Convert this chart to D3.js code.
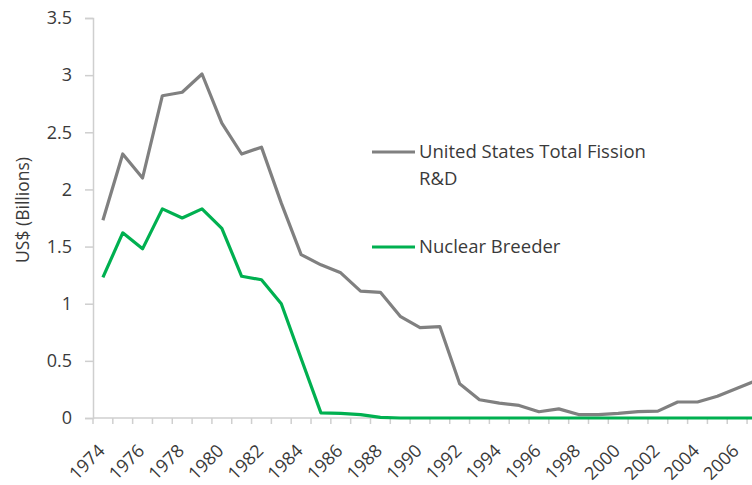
<!DOCTYPE html>
<html>
<head>
<meta charset="utf-8">
<script src="https://cdn.jsdelivr.net/npm/d3@7"></script>
<style>
  body { margin: 0; background: #fff; }
  svg { display: block; font-family: "Open Sans", Lato, sans-serif; }
</style>
</head>
<body>
<div id="chart"></div>
<script>
// years on the category axis (the chart runs past the right edge)
const years = [1974, 1975, 1976, 1977, 1978, 1979, 1980, 1981, 1982, 1983,
  1984, 1985, 1986, 1987, 1988, 1989, 1990, 1991, 1992, 1993,
  1994, 1995, 1996, 1997, 1998, 1999, 2000, 2001, 2002, 2003,
  2004, 2005, 2006, 2007];

// US$ billions
const totalFission = [1.73, 2.31, 2.10, 2.82, 2.85, 3.01, 2.58, 2.31, 2.37, 1.88,
  1.43, 1.34, 1.27, 1.11, 1.10, 0.89, 0.79, 0.80, 0.30, 0.16,
  0.13, 0.11, 0.055, 0.08, 0.03, 0.03, 0.04, 0.055, 0.06, 0.14,
  0.14, 0.19, 0.26, 0.33];

const breeder = [1.23, 1.62, 1.48, 1.83, 1.75, 1.83, 1.66, 1.24, 1.21, 1.00,
  0.52, 0.045, 0.04, 0.03, 0.005, 0, 0, 0, 0, 0,
  0, 0, 0, 0, 0, 0, 0, 0, 0, 0,
  0, 0, 0, 0];

const yTicks = [0, 0.5, 1, 1.5, 2, 2.5, 3, 3.5];
const xLabels = [1974, 1976, 1978, 1980, 1982, 1984, 1986, 1988, 1990,
  1992, 1994, 1996, 1998, 2000, 2002, 2004, 2006];

const series = [
  { name: ['United States Total Fission', 'R&D'], values: totalFission, color: '#808080', legendY: 152 },
  { name: ['Nuclear Breeder'], values: breeder, color: '#00b050', legendY: 247 },
];

const width = 752, height = 485;
const margin = { top: 18, left: 93 };
const plotH = 400;
const step = 19.82;
const axisColor = '#cfcfcf';
const textColor = '#3a3a3a';

const svg = d3.select('#chart').append('svg')
  .attr('width', width)
  .attr('height', height);

const x = d3.scaleBand()
  .domain(years)
  .range([margin.left, margin.left + step * years.length])
  .padding(0);

const y = d3.scaleLinear()
  .domain([0, 3.5])
  .range([margin.top + plotH, margin.top]);

const cx = d => x(d) + x.bandwidth() / 2;

// y axis
const yAxis = svg.append('g')
  .attr('transform', 'translate(' + margin.left + ',0)')
  .call(d3.axisLeft(y).tickValues(yTicks).tickSize(8).tickPadding(13)
    .tickFormat(d => d3.format('')(d)));
yAxis.attr('font-size', null).attr('font-family', null);
yAxis.select('.domain').attr('stroke', axisColor).attr('stroke-width', 1.5);
yAxis.selectAll('.tick line').attr('stroke', axisColor).attr('stroke-width', 1.5);
yAxis.selectAll('.tick text')
  .attr('fill', textColor)
  .style('font-size', '18px');

// x axis line and ticks at category boundaries
const base = y(0);
svg.append('line')
  .attr('x1', margin.left).attr('x2', width)
  .attr('y1', base).attr('y2', base)
  .attr('stroke', axisColor).attr('stroke-width', 1.5);

svg.append('g').selectAll('line')
  .data(years)
  .join('line')
  .attr('x1', d => x(d)).attr('x2', d => x(d))
  .attr('y1', base).attr('y2', base + 6)
  .attr('stroke', axisColor).attr('stroke-width', 1.5);

svg.append('g').selectAll('text')
  .data(xLabels)
  .join('text')
  .attr('transform', d => 'translate(' + (cx(d) + 3) + ',' + (base + 34) + ') rotate(-45)')
  .attr('text-anchor', 'end')
  .attr('fill', textColor)
  .style('font-size', '18px')
  .text(d => d);

// y title
svg.append('text')
  .attr('transform', 'translate(29,210) rotate(-90)')
  .attr('text-anchor', 'middle')
  .attr('fill', textColor)
  .style('font-size', '17.5px')
  .text('US$ (Billions)');

// lines
const line = d3.line()
  .x((d, i) => cx(years[i]))
  .y(d => y(d));

svg.append('g').selectAll('path')
  .data(series)
  .join('path')
  .attr('d', d => line(d.values))
  .attr('fill', 'none')
  .attr('stroke', d => d.color)
  .attr('stroke-width', 3.2)
  .attr('stroke-linejoin', 'round');

// legend
const legend = svg.append('g').selectAll('g')
  .data(series)
  .join('g')
  .attr('transform', d => 'translate(372,' + d.legendY + ')');

legend.append('line')
  .attr('x1', 0).attr('x2', 43)
  .attr('stroke', d => d.color)
  .attr('stroke-width', 3.2);

legend.append('text')
  .attr('x', 47)
  .attr('fill', textColor)
  .style('font-size', '18.5px')
  .selectAll('tspan')
  .data(d => d.name)
  .join('tspan')
  .attr('x', 47)
  .attr('dy', (d, i) => i === 0 ? '0.35em' : '1.45em')
  .text(d => d);
</script>
</body>
</html>
